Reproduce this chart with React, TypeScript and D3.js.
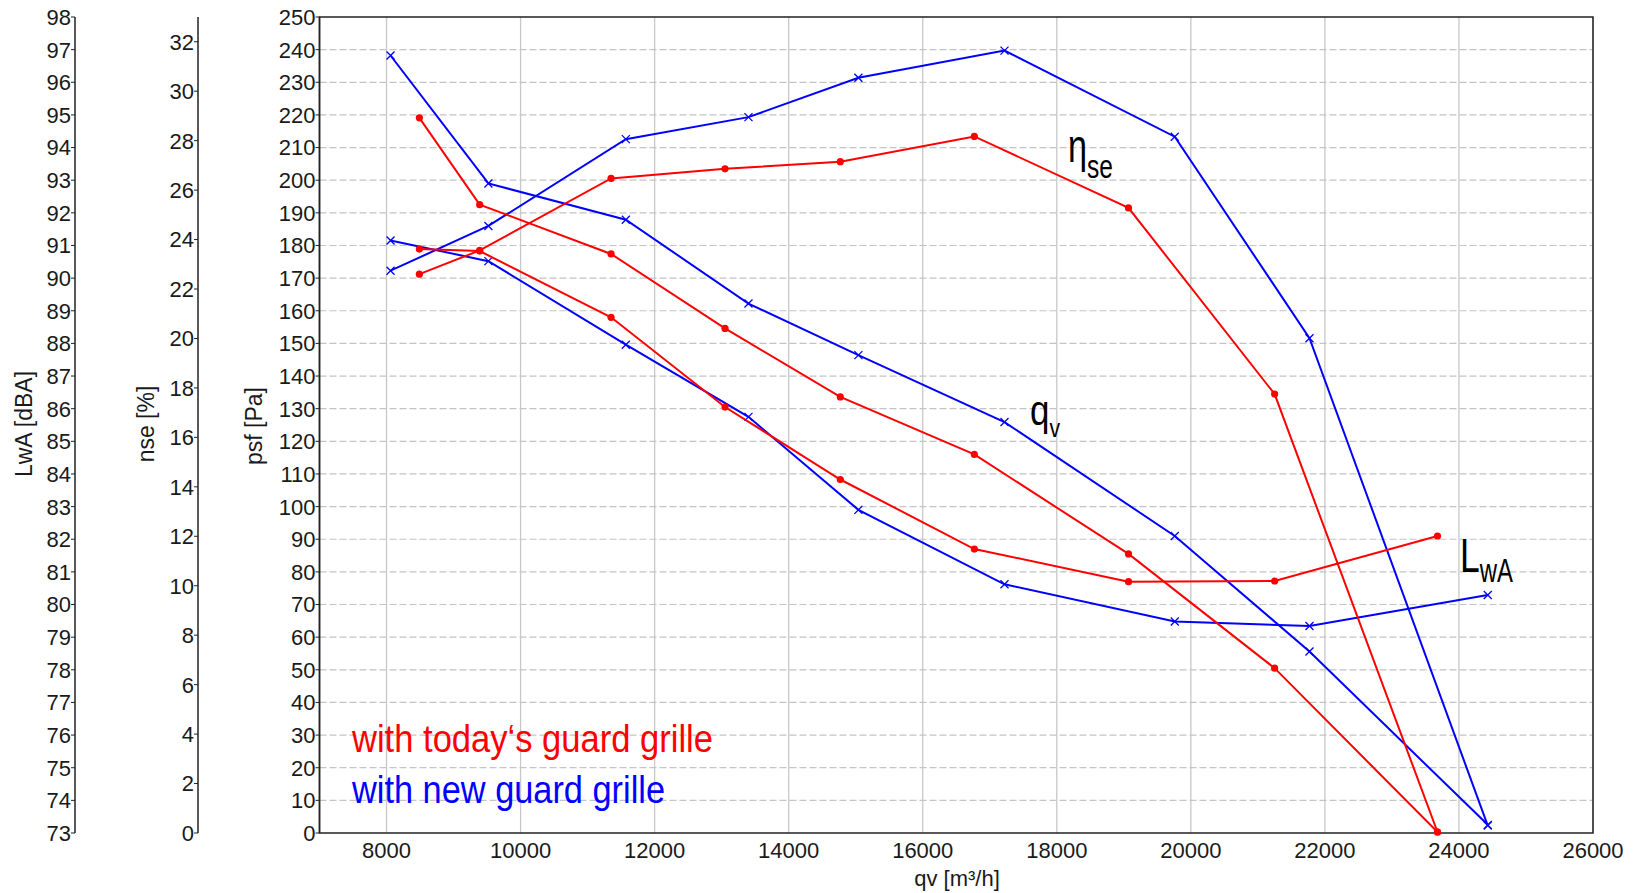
import React from "react";
import * as d3 from "d3";

// operating points
const qvNew = [8060, 9520, 11570, 13400, 15040, 17220, 19760, 21770, 24430];
const qvToday = [8490, 9390, 11350, 13050, 14770, 16770, 19070, 21250, 23680];

// static pressure psf [Pa]
const psfNew = [238.2, 199.0, 187.9, 162.2, 146.4, 125.9, 91.0, 55.6, 2.5];
const psfToday = [219.1, 192.5, 177.4, 154.6, 133.6, 116.0, 85.5, 50.5, 0.3];

// static efficiency nse [%]
const nseNew = [22.74, 24.55, 28.06, 28.95, 30.54, 31.64, 28.16, 20.01, 0.3];
const nseToday = [22.6, 23.56, 26.47, 26.86, 27.15, 28.17, 25.28, 17.75, 0.04];

// sound power LwA [dBA]
const lwaNew = [91.15, 90.52, 87.96, 85.75, 82.9, 80.62, 79.48, 79.34, 80.29];
const lwaToday = [90.89, 90.83, 88.8, 86.05, 83.83, 81.7, 80.7, 80.72, 82.1];

const xTicks = [8000, 10000, 12000, 14000, 16000, 18000, 20000, 22000, 24000, 26000];
const psfTicks = d3.range(0, 251, 10);
const nseTicks = d3.range(0, 33, 2);
const lwaTicks = d3.range(73, 99, 1);

const RED = "#ff0000";
const BLUE = "#0000ff";
const FONT = "'Liberation Sans', Arial, sans-serif";

const W = 1646;
const H = 893;
const plot = { left: 319.5, right: 1593, top: 17, bottom: 833 };
const lwaAxisX = 75;
const nseAxisX = 198;

const x = d3.scaleLinear().domain([7000, 26000]).range([plot.left, plot.right]);
const yPsf = d3.scaleLinear().domain([0, 250]).range([plot.bottom, plot.top]);
const yNse = d3.scaleLinear().domain([0, 33]).range([plot.bottom, plot.top]);
const yLwa = d3.scaleLinear().domain([73, 98]).range([plot.bottom, plot.top]);

type Series = { key: string; color: string; marker: "dot" | "cross"; pts: [number, number][] };

const zip = (xs: number[], ys: number[], sy: d3.ScaleLinear<number, number>) =>
  xs.map((v, i) => [x(v), sy(ys[i])] as [number, number]);

const series: Series[] = [
  { key: "nse-new", color: BLUE, marker: "cross", pts: zip(qvNew, nseNew, yNse) },
  { key: "psf-new", color: BLUE, marker: "cross", pts: zip(qvNew, psfNew, yPsf) },
  { key: "lwa-new", color: BLUE, marker: "cross", pts: zip(qvNew, lwaNew, yLwa) },
  { key: "nse-today", color: RED, marker: "dot", pts: zip(qvToday, nseToday, yNse) },
  { key: "psf-today", color: RED, marker: "dot", pts: zip(qvToday, psfToday, yPsf) },
  { key: "lwa-today", color: RED, marker: "dot", pts: zip(qvToday, lwaToday, yLwa) },
];

const line = d3.line<[number, number]>();

const LeftAxis = ({ ax, ticks, scale }: { ax: number; ticks: number[]; scale: d3.ScaleLinear<number, number> }) => (
  <g>
    <line x1={ax} x2={ax} y1={plot.top} y2={plot.bottom} stroke="#222" strokeWidth={1.5} />
    {ticks.map((t) => (
      <g key={t} transform={`translate(0,${scale(t)})`}>
        <line x1={ax - 4} x2={ax} stroke="#222" strokeWidth={1} />
        <text x={ax - 4} dy="0.36em" textAnchor="end" fontSize={22} fill="#1a1a1a">
          {t}
        </text>
      </g>
    ))}
  </g>
);

// big curve label with a subscript, squeezed like the narrow font of the original
const CurveLabel = ({ x0, y0, main, sub, size, subSize, drop, width }: {
  x0: number; y0: number; main: string; sub: string; size: number; subSize: number; drop: number; width: number;
}) => (
  <text x={x0} y={y0} fontSize={size} textLength={width} lengthAdjust="spacingAndGlyphs" fill="#000">
    {main}
    <tspan dy={drop} fontSize={subSize}>{sub}</tspan>
  </text>
);

export default function App() {
  return (
    <div style={{ position: "fixed", left: 0, top: 0, background: "#fff" }}>
      <svg width={W} height={H} style={{ display: "block", fontFamily: FONT }}>
        <rect width={W} height={H} fill="#fff" />

        {/* grid */}
        {xTicks.map((t) => (
          <line key={t} x1={x(t)} x2={x(t)} y1={plot.top} y2={plot.bottom} stroke="#c8c8c8" strokeWidth={1.3} />
        ))}
        {psfTicks.slice(1, -1).map((t) => (
          <line
            key={t}
            x1={plot.left}
            x2={plot.right}
            y1={yPsf(t)}
            y2={yPsf(t)}
            stroke="#c4c4c4"
            strokeWidth={1.2}
            strokeDasharray="7,3"
          />
        ))}

        {/* frame */}
        <rect
          x={plot.left}
          y={plot.top}
          width={plot.right - plot.left}
          height={plot.bottom - plot.top}
          fill="none"
          stroke="#222"
          strokeWidth={1.5}
        />

        <LeftAxis ax={lwaAxisX} ticks={lwaTicks} scale={yLwa} />
        <LeftAxis ax={nseAxisX} ticks={nseTicks} scale={yNse} />
        <LeftAxis ax={plot.left} ticks={psfTicks} scale={yPsf} />

        {/* x axis labels */}
        {xTicks.map((t) => (
          <text key={t} x={x(t)} y={858} textAnchor="middle" fontSize={22} fill="#1a1a1a">
            {t}
          </text>
        ))}
        <text x={957} y={886} textAnchor="middle" fontSize={22} fill="#1a1a1a">
          qv [m³/h]
        </text>

        {/* y axis titles */}
        <text transform="translate(24,424) rotate(-90)" dy="0.35em" textAnchor="middle" fontSize={23} fill="#1a1a1a">
          LwA [dBA]
        </text>
        <text transform="translate(146,424) rotate(-90)" dy="0.35em" textAnchor="middle" fontSize={23} fill="#1a1a1a">
          nse [%]
        </text>
        <text transform="translate(254,426) rotate(-90)" dy="0.35em" textAnchor="middle" fontSize={23} fill="#1a1a1a">
          psf [Pa]
        </text>

        {/* curves */}
        {series.map((s) => (
          <g key={s.key}>
            <path d={line(s.pts) || ""} fill="none" stroke={s.color} strokeWidth={2} />
            {s.pts.map(([px, py], i) =>
              s.marker === "dot" ? (
                <circle key={i} cx={px} cy={py} r={3.6} fill={s.color} />
              ) : (
                <path
                  key={i}
                  d={`M${px - 4},${py - 4}L${px + 4},${py + 4}M${px - 4},${py + 4}L${px + 4},${py - 4}`}
                  stroke={s.color}
                  strokeWidth={1.3}
                />
              )
            )}
          </g>
        ))}

        {/* curve labels */}
        <CurveLabel x0={1068} y0={162} main="η" sub="se" size={46} subSize={33} drop={16} width={45} />
        <CurveLabel x0={1030} y0={425} main="q" sub="v" size={43} subSize={26} drop={12} width={30} />
        <CurveLabel x0={1460} y0={572} main="L" sub="wA" size={49} subSize={33} drop={10} width={53} />

        {/* legend */}
        <text x={352} y={752} fontSize={38} fill={RED} textLength={361} lengthAdjust="spacingAndGlyphs">
          with today‘s guard grille
        </text>
        <text x={352} y={803} fontSize={38} fill={BLUE} textLength={313} lengthAdjust="spacingAndGlyphs">
          with new guard grille
        </text>
      </svg>
    </div>
  );
}
